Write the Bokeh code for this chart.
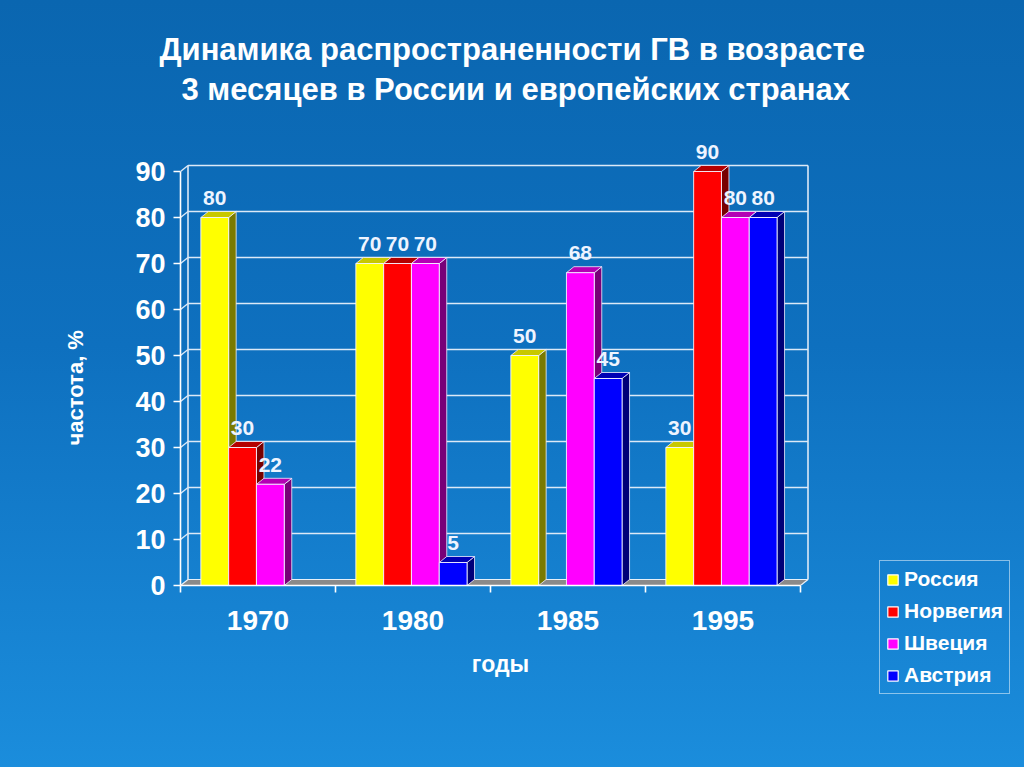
import numpy as np
from bokeh.plotting import figure
from bokeh.layouts import row, column
from bokeh.models import (FixedTicker, Legend, LegendItem, Range1d, Title, Spacer)
from bokeh.core.properties import value
from bokeh.embed import file_html
from bokeh.resources import INLINE

# ---------------- data ----------------
years = ["1970", "1980", "1985", "1995"]
series = ["Россия", "Норвегия", "Швеция", "Австрия"]
russia = [80, 70, 50, 30]
norway = [30, 70, None, 90]
sweden = [22, 70, 68, 80]
austria = [None, 5, 45, 80]
y_ticks = [0, 10, 20, 30, 40, 50, 60, 70, 80, 90]
title_line1 = "Динамика распространенности ГВ в возрасте"
title_line2 = "3 месяцев в России и европейских странах"
y_label = "частота, %"
x_label = "годы"

front_colors = ["#FFFF00", "#FF0000", "#FF00FF", "#0000FF"]
top_colors = ["#C8C800", "#B40000", "#B400B4", "#0000B4"]
side_colors = ["#7A7A00", "#780000", "#780078", "#000078"]

values = [russia, norway, sweden, austria]

FONT = "Liberation Sans"
W1, W2, H = 878, 146, 767
# frame of main figure (page pixels)
FL, FR, FT, FB = 180, 820, 108, 585
px_x = 155.0            # pixels per category unit
px_y = 4.6              # pixels per percent
x_end = (FR - FL) / px_x
y_end = (FB - FT) / px_y
dx = 7.5 / px_x         # depth offset
dy = 6.0 / px_y
bw = 27.8 / px_x        # bar width

p = figure(width=W1, height=H, output_backend="svg", toolbar_location=None,
           title=None,
           x_range=Range1d(0, x_end), y_range=Range1d(0, y_end),
           min_border_left=FL, min_border_right=W1 - FR,
           min_border_top=FT, min_border_bottom=H - FB)
p.background_fill_alpha = 0
p.border_fill_alpha = 0
p.outline_line_color = None
p.xgrid.visible = False
p.ygrid.visible = False

# ---------------- title (two lines) ----------------
for txt, off, so in ((title_line2, 1, 3), (title_line1, -21, 3)):
    t = Title(text=txt, align="left", text_font=FONT,
              text_font_size="31px", text_font_style="bold", text_color="white",
              offset=off, standoff=so)
    p.add_layout(t, "above")

# ---------------- floor and walls ----------------
ncat = len(years)
p.patch([0, ncat, ncat + dx, dx], [0, 0, dy, dy], fill_color="#8a8a8a",
        line_color="#e8f0f8", line_width=1.2)
grid_color = "#dce9f7"
gy = [t for t in y_ticks if t > 0]
p.segment(x0=[dx] * len(gy), y0=[t + dy for t in gy],
          x1=[ncat + dx] * len(gy), y1=[t + dy for t in gy],
          line_color=grid_color, line_width=1.6)
p.segment(x0=[0] * len(gy), y0=gy, x1=[dx] * len(gy), y1=[t + dy for t in gy],
          line_color=grid_color, line_width=1.4)
top_y = max(y_ticks) + dy
p.segment(x0=[dx, ncat + dx], y0=[dy, dy], x1=[dx, ncat + dx], y1=[top_y, top_y],
          line_color=grid_color, line_width=1.6)

# ---------------- bars ----------------
sides_x, sides_y, sides_c = [], [], []
front = {k: [] for k in range(4)}
lab_x, lab_y, lab_t = [], [], []
for ci in range(ncat):
    for si in range(4):
        v = values[si][ci]
        if v is None:
            continue
        xc = ci + 0.5 + (si - 1.5) * bw - 0.01
        x0, x1 = xc - bw / 2, xc + bw / 2
        sides_x.append([x1, x1 + dx, x1 + dx, x1])
        sides_y.append([0, dy, v + dy, v])
        sides_c.append(side_colors[si])
        sides_x.append([x0, x1, x1 + dx, x0 + dx])
        sides_y.append([v, v, v + dy, v + dy])
        sides_c.append(top_colors[si])
        front[si].append((xc, v))
        lab_x.append(xc)
        lab_y.append(v + dy + 6.5 / px_y)
        lab_t.append(str(v))

p.patches(xs=sides_x, ys=sides_y, fill_color=sides_c, line_color="#f0f0ff",
          line_width=0.8)

for si in range(4):
    xs = [a for a, b in front[si]]
    tops = [b for a, b in front[si]]
    p.vbar(x=xs, top=tops, bottom=0, width=bw, fill_color=front_colors[si],
           line_color="#f4f4ff", line_width=0.9)

p.text(x=lab_x, y=lab_y, text=lab_t, text_font=value(FONT),
       text_font_size="21px", text_font_style="bold", text_color="#eef4ff",
       text_align="center", text_baseline="bottom")

# ---------------- axes ----------------
yax = p.yaxis[0]
yax.ticker = FixedTicker(ticks=y_ticks)
yax.bounds = (0, max(y_ticks))
yax.axis_line_color = "white"
yax.axis_line_width = 1.6
yax.major_tick_line_color = "white"
yax.major_tick_line_width = 1.6
yax.major_tick_out = 7
yax.major_tick_in = 0
yax.minor_tick_line_color = None
yax.major_label_text_font = FONT
yax.major_label_text_font_size = "27px"
yax.major_label_text_font_style = "bold"
yax.major_label_text_color = "white"
yax.major_label_standoff = 8

# y-axis caption placed as a side title so it can sit lower along the axis
p.add_layout(Title(text=y_label, align="left", text_font=FONT,
                   text_font_size="22px", text_font_style="bold", text_color="white",
                   offset=140, standoff=90), "left")

xax = p.xaxis[0]
centers = [i + 0.5 for i in range(ncat)]
xax.ticker = FixedTicker(ticks=centers, minor_ticks=list(range(ncat + 1)))
xax.major_label_overrides = {c: y for c, y in zip(centers, years)}
xax.bounds = (0, ncat)
xax.axis_line_color = "white"
xax.axis_line_width = 1.6
xax.major_tick_line_color = None
xax.minor_tick_line_color = "white"
xax.minor_tick_line_width = 1.6
xax.minor_tick_out = 7
xax.minor_tick_in = 0
xax.major_label_text_font = FONT
xax.major_label_text_font_size = "28px"
xax.major_label_text_font_style = "bold"
xax.major_label_text_color = "white"
xax.major_label_standoff = 18
xax.axis_label = x_label
xax.axis_label_text_font = FONT
xax.axis_label_text_font_size = "23px"
xax.axis_label_text_font_style = "bold"
xax.axis_label_text_color = "white"
xax.axis_label_standoff = 18

# ---------------- legend (separate small panel at lower right) ----------------
LT = 560
QH = H - LT
q = figure(width=W2, height=QH, output_backend="svg", toolbar_location=None,
           title=None, x_axis_type=None, y_axis_type=None,
           x_range=Range1d(0, 1), y_range=Range1d(0, 1),
           min_border=0)
q.background_fill_alpha = 0
q.border_fill_alpha = 0
q.outline_line_color = None
q.xgrid.visible = False
q.ygrid.visible = False
# legend swatch renderers sit outside this panel's visible range
leg_r = [q.vbar(x=[-5.0] * len(years), top=[-5.0] * len(years), bottom=-6.0, width=0.1,
                fill_color=c, line_color="white", line_width=1.2) for c in front_colors]
legend = Legend(items=[LegendItem(label=s, renderers=[r]) for s, r in zip(series, leg_r)],
                location=(1, H - 694))
legend.border_line_color = "white"
legend.border_line_width = 1.6
legend.background_fill_alpha = 0
legend.label_text_color = "white"
legend.label_text_font = FONT
legend.label_text_font_size = "21px"
legend.label_text_font_style = "bold"
legend.glyph_width = 13
legend.glyph_height = 13
legend.label_height = 20
legend.label_standoff = 5
legend.spacing = 8
legend.padding = 6
legend.margin = 0
q.add_layout(legend, "center")

layout = row(p, column(Spacer(width=W2, height=LT), q))
html = file_html(layout, INLINE)
css = ("<style>html{background:linear-gradient(180deg,#0a66b0 0%,#0e70bf 45%,#1b8ddc 100%) no-repeat;"
       "min-height:100%;} body{background:transparent;}</style>")
html = html.replace("<head>", "<head>" + css, 1)
open("out.html", "w").write(html)
